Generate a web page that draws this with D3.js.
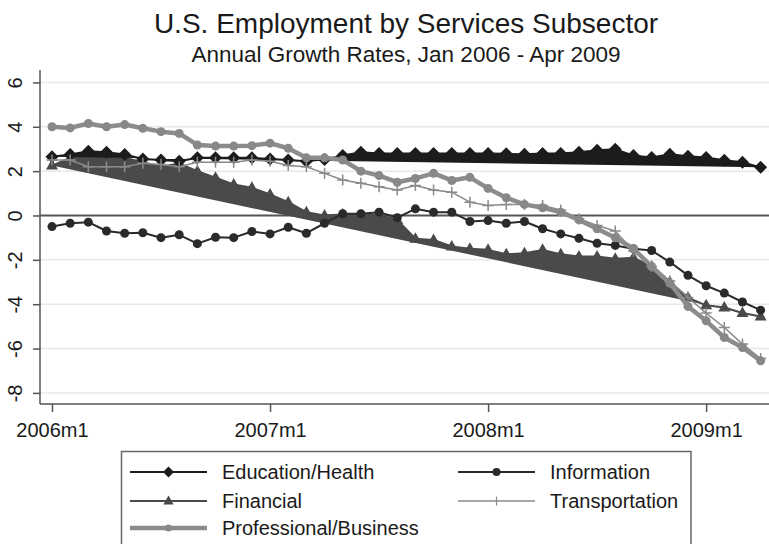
<!DOCTYPE html>
<html>
<head>
<meta charset="utf-8">
<script src="https://cdn.jsdelivr.net/npm/d3@7"></script>
<style>
  html, body { margin: 0; padding: 0; background: #fff; }
  svg { display: block; font-family: "Liberation Sans", Arial, Helvetica, sans-serif; }
</style>
</head>
<body>
<svg id="chart" width="769" height="544"></svg>
<script>
// ---- Data (month index 0 = 2006m1 ... 39 = 2009m4) ----
const months = d3.range(0, 40);
const xTickValues = [0, 12, 24, 36];
const xTickLabels = ["2006m1", "2007m1", "2008m1", "2009m1"];
const yTickValues = [6, 4, 2, 0, -2, -4, -6, -8];
const yTickLabels = ["6", "4", "2", "0", "-2", "-4", "-6", "-8"];

const educationHealth = [2.65, 2.75, 2.9, 2.85, 2.75, 2.55, 2.5, 2.45, 2.6, 2.6,
  2.6, 2.6, 2.55, 2.5, 2.45, 2.53, 2.7, 2.85, 2.8, 2.8,
  2.8, 2.8, 2.8, 2.8, 2.8, 2.78, 2.76, 2.8, 2.8, 2.85,
  2.94, 2.99, 2.7, 2.62, 2.76, 2.67, 2.62, 2.49, 2.4, 2.17];
const information = [-0.5, -0.35, -0.3, -0.7, -0.8, -0.78, -1.0, -0.87, -1.27, -0.98,
  -1.0, -0.72, -0.83, -0.53, -0.8, -0.35, 0.08, 0.08, 0.15, -0.1,
  0.3, 0.15, 0.15, -0.27, -0.23, -0.35, -0.27, -0.6, -0.83, -1.03,
  -1.25, -1.35, -1.5, -1.58, -2.1, -2.7, -3.17, -3.5, -3.9, -4.27];
const financial = [2.25, 2.6, 2.75, 2.7, 2.6, 2.4, 2.2, 2.35, 2.0, 1.7,
  1.4, 1.25, 0.95, 0.6, 0.15, 0.0, 0.05, 0.0, 0.05, -0.2,
  -1.05, -1.1, -1.4, -1.5, -1.55, -1.75, -1.7, -1.55, -1.75, -1.85,
  -1.85, -1.95, -1.9, -2.3, -3.0, -3.7, -4.05, -4.15, -4.4, -4.55];
const transportation = [2.5, 2.5, 2.2, 2.2, 2.2, 2.35, 2.3, 2.2, 2.4, 2.4,
  2.4, 2.5, 2.45, 2.25, 2.2, 1.9, 1.6, 1.45, 1.3, 1.15,
  1.35, 1.15, 1.05, 0.6, 0.45, 0.5, 0.5, 0.45, 0.25, -0.15,
  -0.45, -0.7, -1.6, -2.3, -2.95, -3.7, -4.4, -5.05, -5.8, -6.45];
const professionalBusiness = [4.0, 3.95, 4.15, 4.0, 4.1, 3.93, 3.78, 3.7, 3.18, 3.13,
  3.13, 3.15, 3.26, 3.03, 2.6, 2.6, 2.5, 2.0, 1.8, 1.5,
  1.67, 1.9, 1.58, 1.72, 1.22, 0.8, 0.5, 0.35, 0.15, -0.2,
  -0.6, -1.0, -1.5, -2.3, -3.05, -4.1, -4.75, -5.5, -5.95, -6.55];

// ---- Layout ----
const svg = d3.select("#chart");
const plot = { left: 40, right: 769, top: 70, bottom: 404 };
const x = d3.scaleLinear().domain([-0.66, 39.46]).range([plot.left, plot.right]);
const y = d3.scaleLinear().domain([-8.5, 6.56]).range([plot.bottom, plot.top]);

// Title
svg.append("text").attr("x", 406).attr("y", 33).attr("text-anchor", "middle")
  .attr("font-size", 28).attr("fill", "#1a1a1a").text("U.S. Employment by Services Subsector");
svg.append("text").attr("x", 406).attr("y", 62).attr("text-anchor", "middle")
  .attr("font-size", 22.5).attr("fill", "#1a1a1a").text("Annual Growth Rates, Jan 2006 - Apr 2009");

// Gridlines
svg.append("g").selectAll("line").data(yTickValues.filter(v => v !== 0)).join("line")
  .attr("x1", plot.left).attr("x2", plot.right)
  .attr("y1", d => y(d)).attr("y2", d => y(d))
  .attr("stroke", "#e8e8e8").attr("stroke-width", 1.5);

// Y axis
const yAxis = d3.axisLeft(y).tickValues(yTickValues).tickSize(7)
  .tickFormat((d, i) => yTickLabels[i]);
const yg = svg.append("g").attr("transform", `translate(${plot.left},0)`).call(yAxis);
yg.attr("font-family", null);
yg.select(".domain").attr("stroke", "#555").attr("stroke-width", 1.5).attr("d", `M0,${plot.top}V${plot.bottom}`);
yg.selectAll(".tick line").attr("stroke", "#555").attr("stroke-width", 1.5);
yg.selectAll(".tick text")
  .attr("font-size", 20).attr("fill", "#1a1a1a")
  .attr("x", null).attr("dy", null)
  .attr("text-anchor", "middle")
  .attr("transform", "translate(-18,0) rotate(-90)")
  .attr("y", 0);

// X axis
const xAxis = d3.axisBottom(x).tickValues(xTickValues).tickSize(8)
  .tickFormat((d, i) => xTickLabels[i]);
const xg = svg.append("g").attr("transform", `translate(0,${plot.bottom})`).call(xAxis);
xg.attr("font-family", null);
xg.select(".domain").attr("stroke", "#555").attr("stroke-width", 1.5).attr("d", `M${plot.left},0H${plot.right}`);
xg.selectAll(".tick line").attr("stroke", "#555").attr("stroke-width", 1.5);
xg.selectAll(".tick text").attr("font-size", 20).attr("fill", "#1a1a1a").attr("y", 19).attr("dy", "0.71em");

// Zero line
svg.append("line").attr("x1", plot.left).attr("x2", plot.right)
  .attr("y1", y(0)).attr("y2", y(0)).attr("stroke", "#555").attr("stroke-width", 2);

// ---- Series ----
const line = d3.line().x((d, i) => x(months[i])).y(d => y(d));
const sym = {
  diamond: "M0,-6.5L6.5,0L0,6.5L-6.5,0Z",
  triangle: "M0,-6.5L6,4L-6,4Z",
  plus: "M-5.5,0H5.5M0,-5.5V5.5"
};
const g = svg.append("g");

function drawSeries(vals, opt) {
  const sg = g.append("g");
  if (opt.fill) {
    sg.append("path").attr("d", line(vals) + "Z").attr("fill", opt.color).attr("stroke", "none");
  }
  sg.append("path").attr("d", line(vals)).attr("fill", "none")
    .attr("stroke", opt.color).attr("stroke-width", opt.width).attr("stroke-linejoin", "round");
  const pts = sg.selectAll(".m").data(vals).join(opt.marker === "circle" ? "circle" : "path");
  if (opt.marker === "circle") {
    pts.attr("cx", (d, i) => x(months[i])).attr("cy", d => y(d)).attr("r", opt.r)
      .attr("fill", opt.mcolor || opt.color);
  } else if (opt.marker === "plus") {
    pts.attr("d", sym.plus).attr("transform", (d, i) => `translate(${x(months[i])},${y(d)})`)
      .attr("stroke", opt.color).attr("stroke-width", 1.5).attr("fill", "none");
  } else {
    pts.attr("d", sym[opt.marker]).attr("transform", (d, i) => `translate(${x(months[i])},${y(d)})`)
      .attr("fill", opt.color);
  }
}

const styles = {
  edu: { color: "#1c1c1c", width: 2, marker: "diamond", fill: true },
  fin: { color: "#4a4a4a", width: 2, marker: "triangle", fill: true },
  info: { color: "#2a2a2a", width: 2, marker: "circle", r: 4.5 },
  trans: { color: "#8a8a8a", width: 1.5, marker: "plus" },
  prof: { color: "#8c8c8c", width: 4.5, marker: "circle", r: 4.5, mcolor: "#888" }
};

drawSeries(financial, styles.fin);
drawSeries(educationHealth, styles.edu);
drawSeries(information, styles.info);
drawSeries(transportation, styles.trans);
drawSeries(professionalBusiness, styles.prof);

// ---- Legend ----
const legendItems = [
  { label: "Education/Health", s: styles.edu, col: 0, row: 0 },
  { label: "Information", s: styles.info, col: 1, row: 0 },
  { label: "Financial", s: styles.fin, col: 0, row: 1 },
  { label: "Transportation", s: styles.trans, col: 1, row: 1 },
  { label: "Professional/Business", s: styles.prof, col: 0, row: 2 }
];
const lg = svg.append("g");
lg.append("rect").attr("x", 121.5).attr("y", 451.5).attr("width", 569.5).attr("height", 130)
  .attr("fill", "#fff").attr("stroke", "#666").attr("stroke-width", 1.5);
const colX = [130, 458];
const rowY = [472, 501, 528];
legendItems.forEach(it => {
  const x0 = colX[it.col], yy = rowY[it.row];
  lg.append("line").attr("x1", x0).attr("x2", x0 + 77).attr("y1", yy).attr("y2", yy)
    .attr("stroke", it.s.color).attr("stroke-width", it.s.width);
  const cx = x0 + 38.5;
  if (it.s.marker === "circle") {
    lg.append("circle").attr("cx", cx).attr("cy", yy).attr("r", it.s === styles.prof ? 3.5 : 4)
      .attr("fill", it.s.mcolor || it.s.color);
  } else if (it.s.marker === "plus") {
    lg.append("path").attr("d", "M0,-4.5V4.5").attr("transform", `translate(${cx},${yy})`)
      .attr("stroke", it.s.color).attr("stroke-width", 1.2);
  } else {
    lg.append("path").attr("d", sym[it.s.marker]).attr("transform", `translate(${cx},${yy}) scale(0.85)`)
      .attr("fill", it.s.color);
  }
  lg.append("text").attr("x", x0 + 92).attr("y", yy + 7).attr("font-size", 20)
    .attr("fill", "#1a1a1a").text(it.label);
});
</script>
</body>
</html>
